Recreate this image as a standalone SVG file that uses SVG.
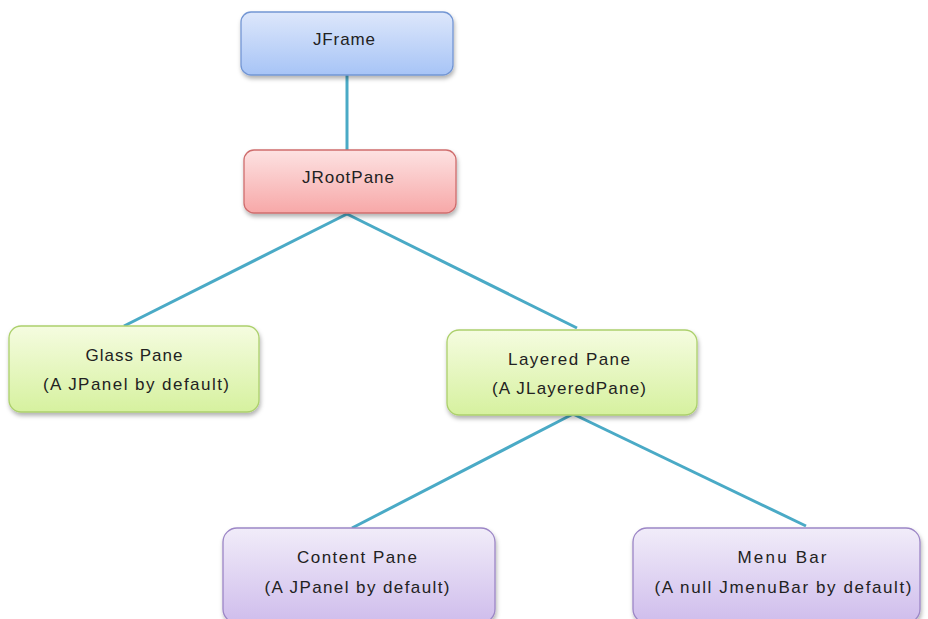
<svg xmlns="http://www.w3.org/2000/svg" width="928" height="619" viewBox="0 0 928 619">
<defs>
<linearGradient id="gBlue" x1="0" y1="0" x2="0" y2="1"><stop offset="0" stop-color="#dde7fb"/><stop offset="1" stop-color="#a7c4f6"/></linearGradient>
<linearGradient id="gRed" x1="0" y1="0" x2="0" y2="1"><stop offset="0" stop-color="#fde2e2"/><stop offset="1" stop-color="#f7a8a8"/></linearGradient>
<linearGradient id="gGreen" x1="0" y1="0" x2="0" y2="1"><stop offset="0" stop-color="#f5fce0"/><stop offset="1" stop-color="#d6f19f"/></linearGradient>
<linearGradient id="gPurple" x1="0" y1="0" x2="0" y2="1"><stop offset="0" stop-color="#f1ecf9"/><stop offset="1" stop-color="#cfbdec"/></linearGradient>
<filter id="sh" x="-10%" y="-10%" width="130%" height="140%"><feDropShadow dx="1" dy="3" stdDeviation="2" flood-color="#000" flood-opacity="0.3"/></filter>
</defs>
<style>
.t{font-family:"Liberation Sans",Arial,sans-serif;font-size:17px;fill:#222;text-anchor:middle}
.c{stroke:#4aaac6;stroke-width:3;fill:none}
.box{stroke-width:1.3;filter:url(#sh)}
</style>
<rect width="928" height="619" fill="#fff"/>
<g id="connectors">
<line class="c" x1="347" y1="75" x2="347" y2="150"/>
<line class="c" x1="347" y1="214" x2="124" y2="326"/>
<line class="c" x1="347" y1="214" x2="577" y2="328"/>
<line class="c" x1="573" y1="414" x2="352" y2="528"/>
<line class="c" x1="573" y1="414" x2="806" y2="526"/>
</g>
<g id="jframe">
<rect class="box" x="241" y="12" width="212" height="63" rx="10" fill="url(#gBlue)" stroke="#7396d4"/>
<text class="t" x="344" y="45" textLength="62" lengthAdjust="spacing">JFrame</text>
</g>
<g id="jrootpane">
<rect class="box" x="244" y="150" width="212" height="63" rx="10" fill="url(#gRed)" stroke="#cf6d6d"/>
<text class="t" x="348" y="183" textLength="92" lengthAdjust="spacing">JRootPane</text>
</g>
<g id="glasspane">
<rect class="box" x="9" y="326" width="250" height="86" rx="12" fill="url(#gGreen)" stroke="#acd06c"/>
<text class="t" x="134" y="361" textLength="97" lengthAdjust="spacing">Glass Pane</text>
<text class="t" x="136" y="390" textLength="186" lengthAdjust="spacing">(A JPanel by default)</text>
</g>
<g id="layeredpane">
<rect class="box" x="447" y="330" width="250" height="85" rx="12" fill="url(#gGreen)" stroke="#acd06c"/>
<text class="t" x="569" y="365" textLength="122" lengthAdjust="spacing">Layered Pane</text>
<text class="t" x="569" y="394" textLength="154" lengthAdjust="spacing">(A JLayeredPane)</text>
</g>
<g id="contentpane">
<rect class="box" x="223" y="528" width="272" height="95" rx="14" fill="url(#gPurple)" stroke="#9c86c6"/>
<text class="t" x="357" y="563" textLength="120" lengthAdjust="spacing">Content Pane</text>
<text class="t" x="357" y="593" textLength="185" lengthAdjust="spacing">(A JPanel by default)</text>
</g>
<g id="menubar">
<rect class="box" x="633" y="528" width="287" height="95" rx="14" fill="url(#gPurple)" stroke="#9c86c6"/>
<text class="t" x="782" y="563" textLength="89" lengthAdjust="spacing">Menu Bar</text>
<text class="t" x="783" y="593" textLength="257" lengthAdjust="spacing">(A null JmenuBar by default)</text>
</g>
</svg>
